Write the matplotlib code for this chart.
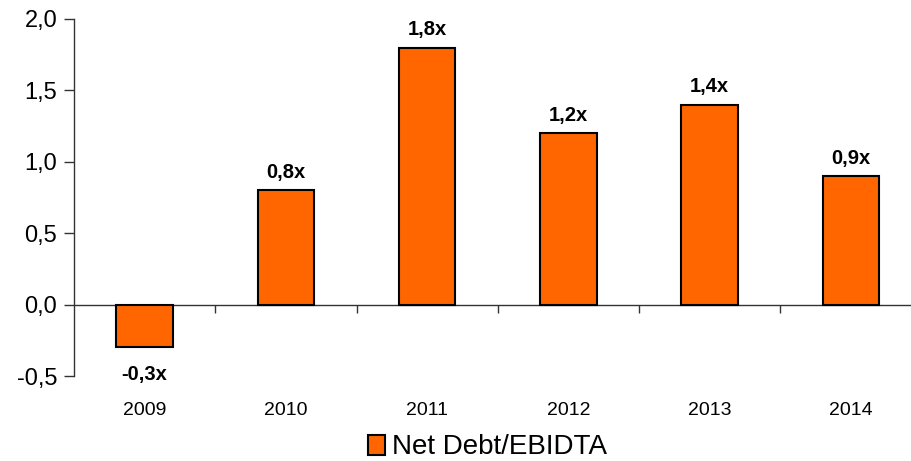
import matplotlib
matplotlib.use("Agg")
import matplotlib.pyplot as plt
from matplotlib.ticker import FuncFormatter

plt.rcParams['font.family'] = ['Liberation Sans', 'DejaVu Sans']

years = ['2009', '2010', '2011', '2012', '2013', '2014']
net_debt_ebitda = [-0.3, 0.8, 1.8, 1.2, 1.4, 0.9]
series_name = 'Net Debt/EBIDTA'

bar_color = '#FF6600'
axis_color = '#333333'

fig = plt.figure(figsize=(9.11, 4.61), dpi=100)
# axes run past the right edge, so the last category is clipped like a cropped slide
ax = fig.add_axes([74 / 911, 1 - 376 / 461, 847.5 / 911, 357 / 461])

x = list(range(len(years)))
bars = ax.bar(x, net_debt_ebitda, width=0.4, color=bar_color,
              edgecolor='black', linewidth=1.5, label=series_name, zorder=3)

ax.set_xlim(-0.5, len(years) - 0.5)
ax.set_ylim(-0.5, 2.0)
ax.set_yticks([-0.5, 0.0, 0.5, 1.0, 1.5, 2.0])
ax.yaxis.set_major_formatter(FuncFormatter(lambda v, p: f"{v:.1f}".replace('.', ',')))

# zero line with small category separator ticks hanging below it
ax.axhline(0, color=axis_color, linewidth=1, zorder=2)
ax.vlines([i + 0.5 for i in range(len(years) - 1)], -0.06, 0,
          color=axis_color, linewidth=1, zorder=2)

for s in ['top', 'right', 'bottom']:
    ax.spines[s].set_visible(False)
ax.spines['left'].set_color(axis_color)
ax.spines['left'].set_linewidth(1)

ax.tick_params(axis='y', direction='out', length=7, width=1, color=axis_color,
               labelsize=17, pad=5)
ax.set_xticks(x)
ax.set_xticklabels(years)
ax.tick_params(axis='x', length=0, labelsize=14, pad=19)

for b, v in zip(bars, net_debt_ebitda):
    label = f"{v:.1f}".replace('.', ',') + 'x'
    cx = b.get_x() + b.get_width() / 2
    if v >= 0:
        ax.annotate(label, (cx, v), xytext=(0, 6), textcoords='offset points',
                    ha='center', va='bottom', fontsize=14.5, fontweight='bold')
    else:
        ax.annotate(label, (cx, v), xytext=(0, -13), textcoords='offset points',
                    ha='center', va='top', fontsize=14.5, fontweight='bold')

fig.legend(handles=[bars], labels=[series_name], loc='lower center',
           bbox_to_anchor=(0.535, -0.053), frameon=False, fontsize=20,
           handlelength=0.6, handleheight=0.75, handletextpad=0.25)

fig.savefig('out.png', dpi=100)
